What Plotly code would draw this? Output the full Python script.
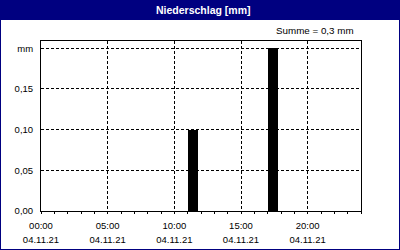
import plotly.graph_objects as go

# ---- data ----
bar_times = ["2021-11-04 11:25", "2021-11-04 17:25"]
bar_values = [0.10, 0.20]
bar_width_ms = 44 * 60 * 1000

x_tickvals = ["2021-11-04 00:00", "2021-11-04 05:00", "2021-11-04 10:00",
              "2021-11-04 15:00", "2021-11-04 20:00"]
x_ticktime = ["00:00", "05:00", "10:00", "15:00", "20:00"]
x_tickdate = ["04.11.21", "04.11.21", "04.11.21", "04.11.21", "04.11.21"]
y_tickvals = [0.0, 0.05, 0.10, 0.15, 0.20]
y_ticktext = ["0,00", "0,05", "0,10", "0,15", "mm"]
title_text = "Niederschlag [mm]"
sum_text = "Summe = 0,3 mm"

W, H = 400, 250
ML, MR, MT, MB = 41, 39, 41, 39
PW, PH = W - ML - MR, H - MT - MB


def px(x):
    return (x - ML) / PW


def py(y):
    return (H - MB - y) / PH


NAVY = "#000080"
FONT = "Liberation Sans"
XRANGE = ["2021-11-04 00:00", "2021-11-05 00:00"]

fig = go.Figure()
fig.add_trace(go.Bar(
    x=bar_times, y=bar_values, width=bar_width_ms,
    marker=dict(color="black", line=dict(width=0)),
    showlegend=False, hoverinfo="skip",
))
# empty trace so the second (date label) axis is drawn
fig.add_trace(go.Scatter(x=[], y=[], xaxis="x2", yaxis="y",
                         showlegend=False, hoverinfo="skip"))

fig.update_layout(
    width=W, height=H,
    margin=dict(l=ML, r=MR, t=MT, b=MB, pad=0, autoexpand=False),
    paper_bgcolor="white", plot_bgcolor="white",
    font=dict(family=FONT, size=9.5, color="black"),
    xaxis=dict(
        type="date",
        range=XRANGE,
        tickvals=x_tickvals,
        ticktext=x_ticktime,
        showgrid=True, gridcolor="black", gridwidth=1, griddash="3px,2px",
        showline=True, linecolor="black", linewidth=1, mirror=True,
        ticks="outside", ticklen=2, tickcolor="black", tickwidth=1,
        minor=dict(dtick=3600000, ticks="outside", ticklen=2,
                   tickcolor="black", tickwidth=1, showgrid=False),
        ticklabelstandoff=4,
        zeroline=False, automargin=False,
    ),
    xaxis2=dict(
        type="date",
        range=XRANGE,
        overlaying="x", anchor="y", side="bottom",
        tickvals=x_tickvals,
        ticktext=x_tickdate,
        showgrid=False, showline=False, zeroline=False,
        ticks="", ticklabelstandoff=21, automargin=False,
    ),
    yaxis=dict(
        range=[0, 0.209],
        tickvals=y_tickvals, ticktext=y_ticktext,
        showgrid=True, gridcolor="black", gridwidth=1, griddash="3px,2px",
        showline=True, linecolor="black", linewidth=1, mirror=True,
        ticks="", ticklabelstandoff=5,
        zeroline=False, automargin=False,
    ),
    shapes=[
        dict(type="rect", xref="paper", yref="paper",
             x0=px(0), x1=px(W), y0=py(20), y1=py(0),
             fillcolor=NAVY, line=dict(width=0), layer="above"),
        dict(type="rect", xref="paper", yref="paper",
             x0=px(0), x1=px(W), y0=py(H), y1=py(0),
             fillcolor="rgba(0,0,0,0)", line=dict(color=NAVY, width=2),
             layer="above"),
    ],
    annotations=[
        dict(text="<b>" + title_text + "</b>", xref="paper", yref="paper",
             x=px(203), y=py(10), xanchor="center", yanchor="middle",
             showarrow=False, font=dict(family=FONT, size=10.5, color="white")),
        dict(text=sum_text, xref="paper", yref="paper",
             x=px(355.5), y=py(30.5), xanchor="right", yanchor="middle",
             showarrow=False, font=dict(family=FONT, size=9.8, color="black")),
    ],
    bargap=0,
)

fig.write_html("out.html")
